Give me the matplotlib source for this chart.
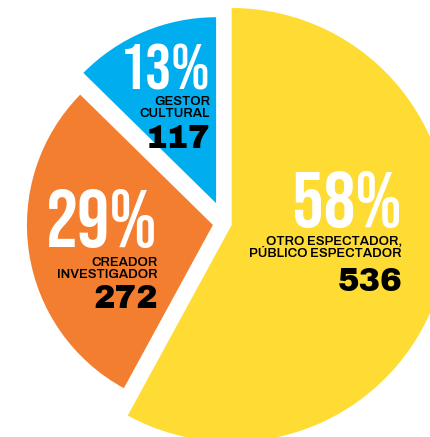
import matplotlib.pyplot as plt
from matplotlib import font_manager as fm
from matplotlib.textpath import TextPath

# data
labels = ['OTRO ESPECTADOR,\nPÚBLICO ESPECTADOR', 'CREADOR\nINVESTIGADOR', 'GESTOR\nCULTURAL']
counts = [536, 272, 117]
colors = ['#FEDC33', '#F47E2F', '#00AEEF']

total = sum(counts)
pcts = [round(c * 100 / total) for c in counts]

W, H = 431, 437
fig = plt.figure(figsize=(W / 100, H / 100), dpi=100)
ax = fig.add_axes([0, 0, 1, 1])

# yellow slice is bigger than the other two
ax.pie(counts, startangle=90, counterclock=False, radius=1.0,
       colors=[colors[0], 'none', 'none'], explode=[0.034, 0, 0],
       wedgeprops=dict(linewidth=0))
ax.pie(counts, startangle=90, counterclock=False, radius=0.857,
       colors=['none', colors[1], colors[2]], explode=[0, 0.054, 0.1],
       wedgeprops=dict(linewidth=0))

# center of the pie in pixels, 1 data unit = 217 px
cx, cy, s = 224.5, 223.2, 217.0
ax.set_xlim(-cx / s, (W - cx) / s)
ax.set_ylim((cy - H) / s, cy / s)
ax.set_aspect('auto')
ax.axis('off')


def px(x, y):
    return x / W, 1 - y / H


def pick(families, weight='normal'):
    for fam in families:
        prop = fm.FontProperties(family=fam, weight=weight)
        try:
            fm.findfont(prop, fallback_to_default=False)
            return prop
        except ValueError:
            pass
    return fm.FontProperties(family='DejaVu Sans', weight=weight)


def size_for(txt, prop, ink_h):
    # font size (pt) so that the ink of txt is ink_h pixels tall
    e = TextPath((0, 0), txt, size=100, prop=prop).get_extents()
    return ink_h / (e.height / 100) * 0.72


pct_font = pick(['Bebas Neue', 'Oswald', 'Fira Sans Extra Condensed'])
lab_font = pick(['Archivo', 'Rubik', 'DejaVu Sans'], weight='heavy')
num_font = pick(['Archivo Black', 'Archivo', 'DejaVu Sans'], weight='heavy')

lab_fs = size_for('H', lab_font, 9)
num_fs = size_for('536', num_font, 23)

# (right x, pct baseline, pct ink height, label baseline (last line), number baseline)
pos = [
    (402, 227, 57, 257, 291),
    (158, 247, 58, 278, 308),
    (210, 90, 47, 117, 148),
]
for i in range(3):
    xr, yb, th, yl, yn = pos[i]
    txt = f'{pcts[i]}%'
    fig.text(*px(xr, yb), txt, fontproperties=pct_font, fontsize=size_for(txt, pct_font, th),
             color='white', ha='right', va='baseline')
    fig.text(*px(xr, yl), labels[i], fontproperties=lab_font, fontsize=lab_fs,
             linespacing=1.1, color='black', ha='right', va='baseline')
    fig.text(*px(xr, yn), str(counts[i]), fontproperties=num_font, fontsize=num_fs,
             color='black', ha='right', va='baseline')

fig.savefig('out.png', dpi=100)
